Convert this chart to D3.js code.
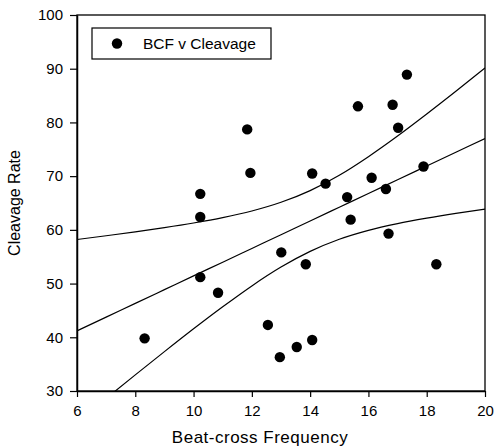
<!DOCTYPE html>
<html><head><meta charset="utf-8">
<script src="https://cdn.jsdelivr.net/npm/d3@7"></script>
<style>body{margin:0;background:#fff}svg{display:block}text{font-family:"Liberation Sans",Arial,sans-serif;fill:#000}</style>
</head><body><svg id="c" width="494" height="448"></svg>
<script>
const bcf = [8.32,10.23,10.23,10.23,10.84,11.84,11.95,12.55,12.96,13.01,13.54,13.85,14.07,14.07,14.53,15.27,15.39,15.64,16.11,16.60,16.69,16.83,17.02,17.32,17.89,18.33];
const cleavage = [39.8,66.7,62.4,51.2,48.3,78.7,70.6,42.3,36.3,55.8,38.2,53.6,70.5,39.5,68.6,66.1,61.9,83.0,69.7,67.6,59.3,83.3,79.0,88.9,71.8,53.6];
const bandX = [6,7,8,9,10,11,12,13,14,15,16,17,18,19,20];
const fitY = [41.2,43.76,46.31,48.87,51.43,53.98,56.54,59.10,61.65,64.21,66.77,69.32,71.88,74.44,77.0];
const upperY = [58.2,58.9,59.62,60.41,61.28,62.28,63.51,65.13,67.31,70.17,73.63,77.47,81.57,85.8,90.13];
const lowerY = [24.2,28.62,33.0,37.33,41.58,45.68,49.57,53.07,55.99,58.25,59.91,61.17,62.19,63.08,63.87];
const xTicks = [6,8,10,12,14,16,18,20];
const yTicks = [30,40,50,60,70,80,90,100];
const legendLabel = "BCF v Cleavage";
const xTitle = "Beat-cross Frequency";
const yTitle = "Cleavage Rate";

const L=77,R=485,T=15,B=391;
const svg=d3.select("#c");
const x=d3.scaleLinear().domain([6,20]).range([L,R]);
const y=d3.scaleLinear().domain([30,100]).range([B,T]);

svg.append("defs").append("clipPath").attr("id","clip").append("rect")
  .attr("x",L).attr("y",T).attr("width",R-L).attr("height",B-T);

// frame
svg.append("rect").attr("x",L).attr("y",T).attr("width",R-L).attr("height",B-T)
  .attr("fill","none").attr("stroke","#000").attr("stroke-width",1.3);

const xa=svg.append("g").attr("transform",`translate(0,${B})`)
  .call(d3.axisBottom(x).tickValues(xTicks).tickSize(6).tickPadding(14).tickSizeOuter(0));
const ya=svg.append("g").attr("transform",`translate(${L},0)`)
  .call(d3.axisLeft(y).tickValues(yTicks).tickSize(7).tickPadding(7).tickSizeOuter(0));
[xa,ya].forEach(g=>{
  g.select(".domain").attr("stroke","#000").attr("stroke-width",1.5);
  g.selectAll(".tick line").attr("stroke","#000").attr("stroke-width",1.2);
  g.selectAll(".tick text").attr("font-size",15).attr("font-family","'Liberation Sans',Arial,sans-serif").attr("fill","#000");
});
xa.selectAll(".tick text").attr("dy","0.3em");

const pts=bandX.map((d,i)=>({x:d,f:fitY[i],u:upperY[i],l:lowerY[i]}));
const gl=svg.append("g").attr("clip-path","url(#clip)");
const mk=k=>d3.line().x(d=>x(d.x)).y(d=>y(d[k])).curve(d3.curveMonotoneX);
["u","f","l"].forEach(k=>gl.append("path").datum(pts).attr("d",mk(k))
  .attr("fill","none").attr("stroke","#000").attr("stroke-width",1.2));

svg.append("g").selectAll("circle").data(bcf).join("circle")
  .attr("cx",d=>x(d)).attr("cy",(d,i)=>y(cleavage[i])).attr("r",5.2).attr("fill","#000");

// legend
svg.append("rect").attr("x",92).attr("y",28).attr("width",179).attr("height",31)
  .attr("fill","#fff").attr("stroke","#000").attr("stroke-width",1.2);
svg.append("circle").attr("cx",117).attr("cy",43.5).attr("r",5.2).attr("fill","#000");
svg.append("text").attr("x",143).attr("y",49).attr("font-size",15.5).text(legendLabel);

svg.append("text").attr("x",260).attr("y",443).attr("text-anchor","middle").attr("font-size",17).attr("letter-spacing","0.5px").text(xTitle);
svg.append("text").attr("transform",`translate(20,${(T+B)/2}) rotate(-90)`).attr("text-anchor","middle").attr("font-size",16).text(yTitle);
</script></body></html>
